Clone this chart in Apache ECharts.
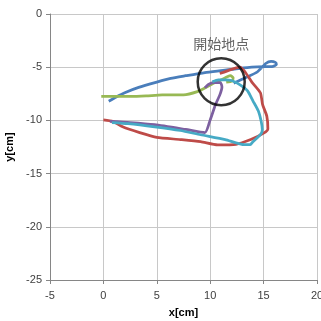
<!DOCTYPE html>
<html>
<head>
<meta charset="utf-8">
<script src="https://cdn.jsdelivr.net/npm/echarts@6/dist/echarts.min.js"></script>
<style>html,body{margin:0;padding:0;background:#fff}#c{width:321px;height:321px}</style>
</head>
<body>
<div id="c"></div>
<script>
const xTicks = { min: -5, max: 20, interval: 5 };
const yTicks = { min: -25, max: 0, interval: 5 };
const startLabel = "開始地点";
const startPoint = [[11.03, -6.37]];

const blueData = [[12.2,-6.5],[13.5,-5.9],[14.4,-5.45],[15.2,-4.65],[15.7,-4.45],[16.1,-4.55],[16.2,-4.75],[15.8,-4.95],[15.2,-4.95],[14.4,-4.98],[12.8,-5.1],[11.2,-5.3],[9.5,-5.5],[7.7,-5.8],[6.3,-6.05],[5.0,-6.4],[3.3,-6.9],[2.0,-7.4],[1.2,-7.8],[0.5,-8.2]];
const redData = [[10.9,-5.6],[12.0,-5.2],[12.8,-5.0],[13.3,-5.5],[13.9,-6.4],[14.7,-7.4],[14.9,-8.5],[15.3,-9.6],[15.4,-10.8],[15.0,-11.2],[13.8,-11.8],[12.4,-12.25],[10.7,-12.3],[9.1,-12.0],[7.2,-11.8],[5.0,-11.6],[3.4,-11.15],[1.8,-10.6],[0.9,-10.1],[0.0,-9.95]];
const greenData = [[-0.2,-7.75],[1.0,-7.75],[2.5,-7.75],[4.0,-7.7],[5.5,-7.6],[7.5,-7.6],[8.8,-7.3],[9.7,-6.85],[10.3,-6.5],[10.8,-6.3],[11.2,-6.1],[11.6,-5.9],[11.9,-5.8],[12.15,-6.0],[12.05,-6.3],[11.5,-6.4]];
const purpleData = [[0.6,-10.1],[2.5,-10.2],[4.8,-10.4],[7.7,-10.85],[9.5,-11.15],[10.0,-9.95],[10.5,-8.5],[10.9,-7.6],[11.1,-6.85],[10.95,-6.45],[10.3,-6.45],[9.8,-6.65],[9.5,-6.95]];
const cyanData = [[10.2,-6.37],[10.75,-6.19],[11.4,-6.19],[12.06,-6.28],[12.8,-6.66],[13.5,-7.22],[14.0,-8.16],[14.5,-9.1],[14.78,-10.12],[14.88,-10.87],[14.7,-11.34],[14.0,-12.0],[13.75,-12.28],[13.2,-12.28],[11.4,-11.8],[9.1,-11.35],[7.2,-10.95],[4.8,-10.6],[2.3,-10.3],[0.8,-10.2]];

const seriesList = [
  { data: blueData, color: '#4A7EBB' },
  { data: redData, color: '#BE4B48' },
  { data: greenData, color: '#98B954' },
  { data: purpleData, color: '#7D60A0' },
  { data: cyanData, color: '#46AAC5' }
];

const chart = echarts.init(document.getElementById('c'), null, { renderer: 'canvas' });
const axisCommon = {
  type: 'value',
  axisLine: { show: true, onZero: false, lineStyle: { color: '#868686', width: 1 } },
  axisTick: { show: true, length: 4, lineStyle: { color: '#868686' } },
  splitLine: { show: true, lineStyle: { color: '#c8c8c8', width: 1 } },
  axisLabel: { color: '#404040', fontSize: 11, fontFamily: 'Liberation Sans, Arial, sans-serif' },
  nameTextStyle: { color: '#000', fontSize: 11, fontWeight: 'bold', fontFamily: 'Liberation Sans, Arial, sans-serif' }
};
chart.setOption({
  animation: false,
  backgroundColor: '#fff',
  grid: { left: 50, right: 4, top: 14, bottom: 41, containLabel: false, outerBoundsMode: 'none' },
  xAxis: Object.assign({}, axisCommon, {
    min: xTicks.min, max: xTicks.max, interval: xTicks.interval,
    name: 'x[cm]', nameLocation: 'middle', nameGap: 27,
    axisLabel: Object.assign({}, axisCommon.axisLabel, { margin: 10 })
  }),
  yAxis: Object.assign({}, axisCommon, {
    min: yTicks.min, max: yTicks.max, interval: yTicks.interval,
    name: 'y[cm]', nameLocation: 'middle', nameGap: 33,
    axisLabel: Object.assign({}, axisCommon.axisLabel, { margin: 8 })
  }),
  series: seriesList.map(s => ({
    type: 'line', data: s.data, showSymbol: false, smooth: 0.2,
    lineStyle: { color: s.color, width: 2.75 }, itemStyle: { color: s.color }
  })).concat([{
    type: 'scatter', data: startPoint, symbol: 'circle', symbolSize: 47, z: 10,
    itemStyle: { color: 'rgba(0,0,0,0)', borderColor: '#000', borderWidth: 2.5 },
    label: { show: true, position: 'top', distance: 6, formatter: startLabel,
      color: '#404040', fontSize: 14, fontFamily: 'Noto Sans CJK JP, sans-serif' }
  }])
});
</script>
</body>
</html>
